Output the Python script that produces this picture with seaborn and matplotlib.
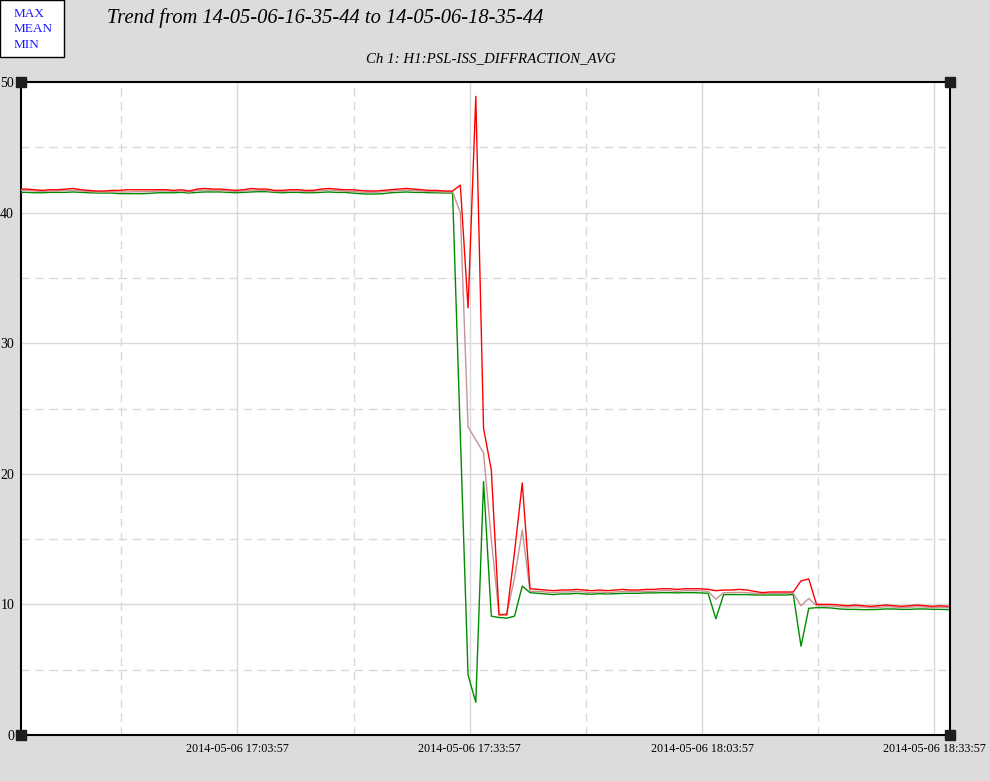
import numpy as np
import pandas as pd
import matplotlib
matplotlib.use("Agg")
import matplotlib.pyplot as plt
import seaborn as sns
from matplotlib.patches import Rectangle

# ---------------- data (one sample per minute from 16:35:44) ----------------
start_time = "2014-05-06 16:35:44"

max_before = [41.80, 41.80, 41.75, 41.70, 41.75, 41.75, 41.80, 41.85, 41.75, 41.70,
              41.65, 41.65, 41.70, 41.70, 41.75, 41.75, 41.75, 41.75, 41.75, 41.75,
              41.70, 41.75, 41.65, 41.80, 41.85, 41.80, 41.80, 41.75, 41.70, 41.75,
              41.85, 41.80, 41.80, 41.70, 41.70, 41.75, 41.75, 41.70, 41.70, 41.80,
              41.85, 41.80, 41.75, 41.75, 41.70, 41.65, 41.65, 41.70, 41.75, 41.80,
              41.85, 41.80, 41.75, 41.70, 41.70, 41.65, 41.65]
mean_before = [41.70, 41.70, 41.65, 41.62, 41.65, 41.65, 41.70, 41.72, 41.65, 41.62,
               41.58, 41.58, 41.60, 41.58, 41.58, 41.60, 41.60, 41.62, 41.65, 41.65,
               41.62, 41.65, 41.58, 41.70, 41.72, 41.70, 41.70, 41.65, 41.62, 41.65,
               41.72, 41.70, 41.70, 41.62, 41.62, 41.65, 41.65, 41.62, 41.62, 41.70,
               41.72, 41.70, 41.65, 41.62, 41.58, 41.55, 41.55, 41.60, 41.65, 41.68,
               41.72, 41.70, 41.65, 41.62, 41.60, 41.58, 41.58]
min_before = [41.55, 41.55, 41.52, 41.52, 41.55, 41.55, 41.55, 41.58, 41.55, 41.52,
              41.50, 41.50, 41.50, 41.45, 41.45, 41.45, 41.45, 41.48, 41.52, 41.52,
              41.52, 41.55, 41.50, 41.55, 41.58, 41.58, 41.58, 41.55, 41.52, 41.55,
              41.58, 41.60, 41.60, 41.55, 41.52, 41.55, 41.55, 41.52, 41.52, 41.55,
              41.58, 41.55, 41.55, 41.50, 41.45, 41.42, 41.42, 41.45, 41.52, 41.55,
              41.58, 41.55, 41.55, 41.52, 41.52, 41.50, 41.50]

max_event = [42.10, 32.70, 48.90, 23.50, 20.30, 9.20, 9.20, 14.00, 19.30, 11.20]
mean_event = [40.00, 23.60, 22.60, 21.60, 15.00, 9.20, 9.30, 12.00, 15.70, 11.00]
min_event = [23.00, 4.60, 2.50, 19.40, 9.10, 9.00, 8.95, 9.10, 11.40, 10.90]

max_mid = [11.15, 11.10, 11.05, 11.10, 11.10, 11.15, 11.10, 11.05, 11.10, 11.05, 11.10, 11.15,
           11.10, 11.10, 11.15, 11.15, 11.20, 11.20, 11.15, 11.20, 11.20, 11.20, 11.15,
           11.05,
           11.10, 11.10, 11.15, 11.10, 11.00, 10.90, 10.95, 10.95, 10.95,
           10.95, 11.80, 11.95, 10.00]
mean_mid = [11.00, 10.95, 10.90, 10.95, 10.95, 11.00, 10.95, 10.90, 10.95, 10.90, 10.95, 11.00,
            10.98, 10.98, 11.00, 11.00, 11.05, 11.05, 11.00, 11.05, 11.05, 11.05, 11.00,
            10.40,
            10.90, 10.90, 10.92, 10.90, 10.85, 10.82, 10.85, 10.85, 10.85,
            10.85, 9.90, 10.45, 9.90]
min_mid = [10.85, 10.80, 10.75, 10.80, 10.80, 10.85, 10.80, 10.78, 10.82, 10.80, 10.82, 10.85,
           10.85, 10.85, 10.88, 10.88, 10.90, 10.90, 10.88, 10.90, 10.90, 10.88, 10.85,
           8.90,
           10.75, 10.75, 10.75, 10.75, 10.72, 10.72, 10.72, 10.72, 10.72,
           10.75, 6.80, 9.70, 9.75]

max_end = [10.00, 10.00, 9.95, 9.90, 9.95, 9.90, 9.85, 9.90, 9.95, 9.90, 9.85, 9.90,
           9.95, 9.90, 9.85, 9.90, 9.85]
mean_end = [9.88, 9.88, 9.82, 9.80, 9.82, 9.80, 9.75, 9.78, 9.82, 9.80, 9.75, 9.78,
            9.82, 9.80, 9.75, 9.78, 9.75]
min_end = [9.75, 9.72, 9.65, 9.62, 9.62, 9.60, 9.60, 9.62, 9.65, 9.65, 9.62, 9.62,
           9.65, 9.65, 9.62, 9.62, 9.60]

series_names = ["MIN", "MEAN", "MAX"]
series_colors = ["#008c00", "#c49494", "#ff0000"]

tick_labels = ["2014-05-06 17:03:57", "2014-05-06 17:33:57",
               "2014-05-06 18:03:57", "2014-05-06 18:33:57"]
y_ticks = [0, 10, 20, 30, 40, 50]

title_text = "Trend from 14-05-06-16-35-44 to 14-05-06-18-35-44"
subtitle_text = "Ch 1: H1:PSL-ISS_DIFFRACTION_AVG"

# ---------------- assemble ----------------
max_vals = max_before + max_event + max_mid + max_end
mean_vals = mean_before + mean_event + mean_mid + mean_end
min_vals = min_before + min_event + min_mid + min_end
n = len(max_vals)
minutes = np.arange(n, dtype=float)

df = pd.DataFrame({
    "minute": np.concatenate([minutes, minutes, minutes]),
    "value": np.concatenate([min_vals, mean_vals, max_vals]),
    "series": ["MIN"] * n + ["MEAN"] * n + ["MAX"] * n,
})

t0 = pd.Timestamp(start_time)
tick_pos = [(pd.Timestamp(t) - t0).total_seconds() / 60.0 for t in tick_labels]
minor_pos = [p - 15.0 for p in tick_pos]

serif = ["Liberation Serif", "DejaVu Serif"]

W, H = 990, 781
fig = plt.figure(figsize=(W / 100, H / 100), dpi=100, facecolor="#dcdcdc")
left_px, right_px, top_px, bot_px = 20.5, 950, 82, 735
ax = fig.add_axes([left_px / W, 1 - bot_px / H, (right_px - left_px) / W, (bot_px - top_px) / H])
ax.set_facecolor("white")

# grid
grid_col = "#d9d9d9"
for y in [10, 20, 30, 40]:
    ax.axhline(y, color=grid_col, lw=1, zorder=0)
for y in [5, 15, 25, 35, 45]:
    ax.axhline(y, color=grid_col, lw=1, ls=(0, (6, 4)), zorder=0)
for x in tick_pos:
    ax.axvline(x, color=grid_col, lw=1, zorder=0)
for x in minor_pos:
    ax.axvline(x, color=grid_col, lw=1, ls=(0, (6, 4)), zorder=0)

sns.lineplot(data=df, x="minute", y="value", hue="series", hue_order=series_names,
             palette=dict(zip(series_names, series_colors)), estimator=None,
             linewidth=1.0, legend=False, ax=ax, zorder=3)

ax.set_xlim(0.2, 120.24)
ax.set_ylim(0, 50)
ax.set_xlabel("")
ax.set_ylabel("")
ax.set_xticks(tick_pos)
ax.set_xticklabels(tick_labels, fontsize=8.7, family=serif)
ax.set_yticks(y_ticks)
ax.set_yticklabels([str(v) for v in y_ticks], fontsize=10, family=serif)
ax.tick_params(axis="both", length=0)
ax.tick_params(axis="x", pad=5.5)
ax.tick_params(axis="y", pad=4.6)
for s in ax.spines.values():
    s.set_color("black")
    s.set_linewidth(1.5)

# corner markers
ax.plot([0, 1, 0, 1], [0, 0, 1, 1], "s", transform=ax.transAxes, clip_on=False,
        ms=7, color="#1e1e1e", zorder=6)

# titles
fig.text(107 / W, 1 - 18 / H, title_text, fontsize=14.8, style="italic",
         family=serif, ha="left", va="center")
fig.text(491 / W, 1 - 59 / H, subtitle_text, fontsize=10.7, style="italic",
         family=serif, ha="center", va="center")

# legend box
fig.patches.append(Rectangle((0, 1 - 57 / H), 64 / W, 57 / H, transform=fig.transFigure,
                             facecolor="white", edgecolor="black", lw=1, zorder=10))
for i, name in enumerate(["MAX", "MEAN", "MIN"]):
    fig.text(14 / W, 1 - (14 + i * 15.5) / H, name, fontsize=9.5, color="#1a1aff",
             family=serif, ha="left", va="center", zorder=11)

fig.savefig("out.png", dpi=100, facecolor=fig.get_facecolor())
